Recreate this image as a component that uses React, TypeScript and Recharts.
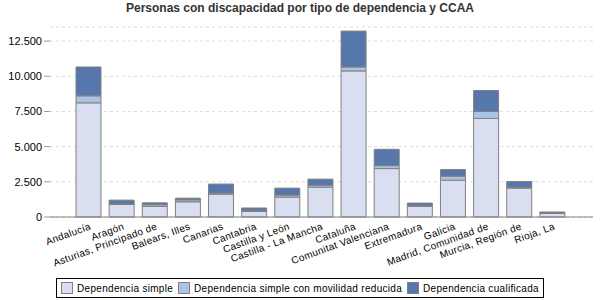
import { BarChart, Bar, XAxis, YAxis, CartesianGrid } from "recharts";

const regions = [
  "Andalucía",
  "Aragón",
  "Asturias, Principado de",
  "Balears, Illes",
  "Canarias",
  "Cantabria",
  "Castilla y León",
  "Castilla - La Mancha",
  "Cataluña",
  "Comunitat Valenciana",
  "Extremadura",
  "Galicia",
  "Madrid, Comunidad de",
  "Murcia, Región de",
  "Rioja, La",
];

const simple = [8110, 890, 750, 1080, 1630, 400, 1420, 2120, 10380, 3440, 750, 2620, 7000, 2050, 255];
const reducida = [500, 30, 120, 140, 70, 50, 140, 140, 280, 210, 70, 280, 500, 70, 20];
const cualificada = [2050, 280, 140, 120, 640, 190, 490, 430, 2550, 1160, 170, 470, 1490, 400, 80];

const yTicks = [0, 2500, 5000, 7500, 10000, 12500];

const seriesNames = [
  "Dependencia simple",
  "Dependencia simple con movilidad reducida",
  "Dependencia cualificada",
];
const seriesColors = ["#d9dff0", "#abc3e3", "#5677ab"];

const data = regions.map((name, i) => ({
  name,
  simple: simple[i],
  reducida: reducida[i],
  cualificada: cualificada[i],
}));

const font = "Liberation Sans, Arial, sans-serif";
const fmt = (v: number) => v.toLocaleString("de-DE");

function RotatedTick(props: any) {
  const { x, y, payload } = props;
  const tx = x + 3;
  const ty = y + 4;
  return (
    <text
      x={tx}
      y={ty}
      textAnchor="end"
      fontSize={10}
      fill="#000"
      fontFamily={font}
      letterSpacing={0.3}
      transform={`rotate(-20, ${tx}, ${ty})`}
    >
      {payload.value}
    </text>
  );
}

function LegendBox() {
  return (
    <div
      style={{
        display: "inline-flex",
        alignItems: "center",
        border: "1px solid #000",
        padding: "3px 4px",
        fontFamily: font,
        fontSize: 10,
        letterSpacing: 0.3,
        color: "#000",
        background: "#fff",
      }}
    >
      {seriesNames.map((n, i) => (
        <span key={n} style={{ display: "inline-flex", alignItems: "center", marginRight: i < 2 ? 5 : 0 }}>
          <span
            style={{
              display: "inline-block",
              width: 10,
              height: 10,
              background: seriesColors[i],
              border: "1px solid #808080",
              marginRight: 4,
            }}
          />
          {n}
        </span>
      ))}
    </div>
  );
}

export default function App() {
  return (
    <div style={{ position: "absolute", left: 0, top: 0, width: 600, height: 300, background: "#fff" }}>
      <div
        style={{
          position: "absolute",
          top: 1,
          width: 600,
          textAlign: "center",
          fontFamily: font,
          fontWeight: "bold",
          fontSize: 12,
          color: "#333",
        }}
      >
        Personas con discapacidad por tipo de dependencia y CCAA
      </div>
      <BarChart
        width={600}
        height={300}
        data={data}
        margin={{ top: 27, right: 7, left: 0, bottom: 0 }}
        barSize={25}
      >
        <CartesianGrid vertical={false} stroke="#dcdcdc" strokeDasharray="3 3" />
        <XAxis
          dataKey="name"
          interval={0}
          tickLine={false}
          axisLine={{ stroke: "#808080" }}
          tick={<RotatedTick />}
          height={83}
          padding={{ left: 22, right: 24 }}
        />
        <YAxis
          width={50}
          domain={[0, 13500]}
          ticks={yTicks}
          axisLine={false}
          tickLine={{ stroke: "#999" }}
          tickSize={6}
          tickMargin={2}
          tickFormatter={fmt}
          tick={{ fontSize: 11, fill: "#000", fontFamily: font }}
        />
        <Bar dataKey="simple" stackId="a" fill={seriesColors[0]} stroke="#808080" strokeWidth={1} isAnimationActive={false} />
        <Bar dataKey="reducida" stackId="a" fill={seriesColors[1]} stroke="#808080" strokeWidth={1} isAnimationActive={false} />
        <Bar dataKey="cualificada" stackId="a" fill={seriesColors[2]} stroke="#808080" strokeWidth={1} isAnimationActive={false} />
      </BarChart>
      <div style={{ position: "absolute", top: 278, left: 0, width: 600, textAlign: "center" }}>
        <LegendBox />
      </div>
    </div>
  );
}
